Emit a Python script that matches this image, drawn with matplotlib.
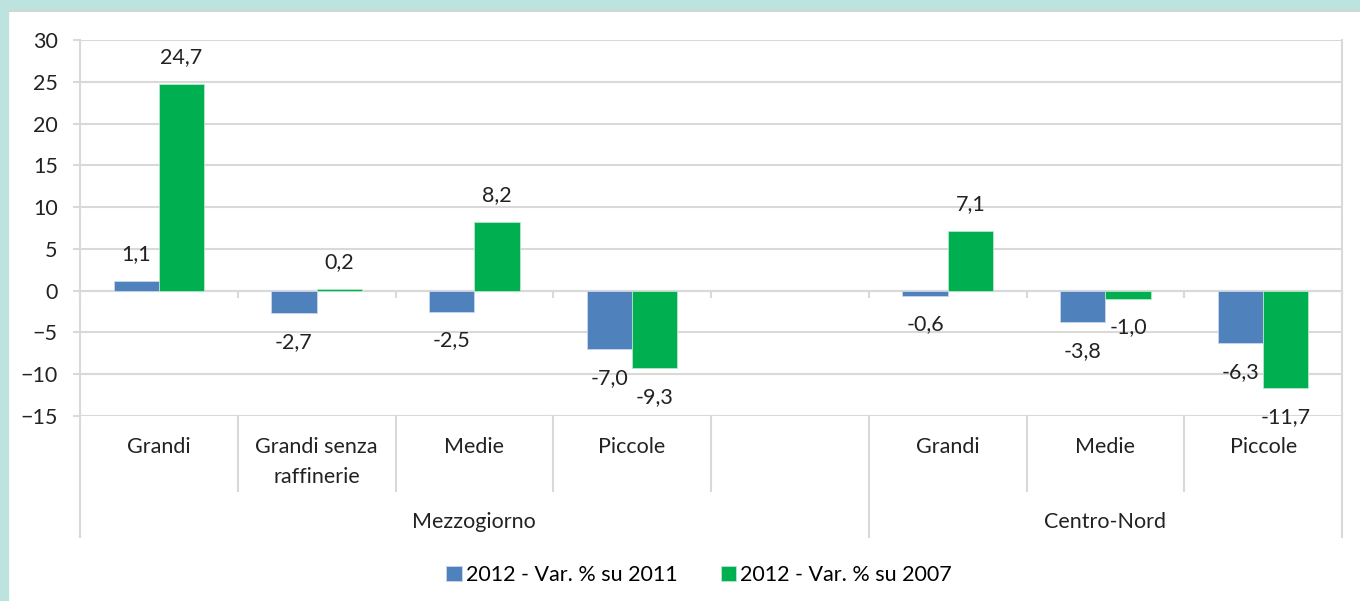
import matplotlib.pyplot as plt
from matplotlib.patches import Rectangle
from matplotlib.transforms import blended_transform_factory
import numpy as np

plt.rcParams['font.family'] = ['Lato', 'DejaVu Sans']

categories = ["Grandi", "Grandi senza\nraffinerie", "Medie", "Piccole", "", "Grandi", "Medie", "Piccole"]
groups = ["Mezzogiorno", "Centro-Nord"]
group_spans = [(0, 5), (5, 8)]
var_2011 = [1.1, -2.7, -2.5, -7.0, np.nan, -0.6, -3.8, -6.3]
var_2007 = [24.7, 0.2, 8.2, -9.3, np.nan, 7.1, -1.0, -11.7]
legend_labels = ["2012 - Var. % su 2011", "2012 - Var. % su 2007"]
yticks = list(range(-15, 31, 5))

blue = '#4f81bd'
green = '#00b050'
grid_col = '#d9d9d9'
fs = 15.5

W, H = 1360, 601
fig = plt.figure(figsize=(W / 100, H / 100), dpi=100, facecolor='white')
fig.patches.append(Rectangle((0, 1 - 10 / H), 1, 10 / H, transform=fig.transFigure, color='#bde3de', zorder=0))
fig.patches.append(Rectangle((0, 0), 8 / W, 1, transform=fig.transFigure, color='#bde3de', zorder=0))
fig.lines.append(plt.Line2D([8 / W, 1], [1 - 11 / H, 1 - 11 / H], transform=fig.transFigure, color='#d0d8d6', lw=1.5))

ax = fig.add_axes([80 / W, 1 - 416 / H, (1342 - 80) / W, (416 - 40) / H])
x = np.arange(len(categories)) + 0.5
bw = 0.287
b1 = ax.bar(x - bw / 2, var_2011, bw, color=blue, edgecolor='#c9d7ea', linewidth=0.6, zorder=3)
b2 = ax.bar(x + bw / 2, var_2007, bw, color=green, edgecolor='#b8e6c9', linewidth=0.6, zorder=3)

for bars, vals in ((b1, var_2011), (b2, var_2007)):
    for rect, v in zip(bars, vals):
        if np.isnan(v):
            continue
        off = 19.5 if v >= 0 else -20.5
        ax.annotate(f"{v:.1f}".replace('.', ','), (rect.get_x() + rect.get_width() / 2, v),
                    xytext=(0, off), textcoords='offset points', ha='center', va='center',
                    fontsize=fs, color='#222222', zorder=4)

ax.set_xlim(0, 8)
ax.set_ylim(-15, 30)
ax.set_yticks(yticks)
ax.yaxis.grid(True, color=grid_col, lw=1.5, zorder=0)
ax.tick_params(axis='y', length=5, width=1.5, color=grid_col, pad=11, labelsize=fs, labelcolor='#222222')
ax.set_xticks(range(0, 9))
ax.set_xticklabels([])
ax.tick_params(axis='x', length=5, width=1.5, color=grid_col, direction='out')
ax.spines['bottom'].set_position(('data', 0))
ax.spines['top'].set_visible(False)
for s in ('left', 'right', 'bottom'):
    ax.spines[s].set_color(grid_col)
    ax.spines[s].set_linewidth(1.5)

axh = 376.0
trans = blended_transform_factory(ax.transData, ax.transAxes)
for b in range(9):
    if b in (0, 5, 8):
        y_end = -121 / axh
    else:
        y_end = -75 / axh
    ax.plot([b, b], [0, y_end], transform=trans, color=grid_col, lw=1.5, clip_on=False, zorder=1)

for i, lab in enumerate(categories):
    ax.text(x[i], -21 / axh, lab, transform=trans, ha='center', va='top', fontsize=fs,
            color='#222222', linespacing=1.6)

for g, (a, b) in zip(groups, group_spans):
    ax.text((a + b) / 2, -106 / axh, g, transform=trans, ha='center', va='center', fontsize=fs, color='#222222')

leg = fig.legend([b1, b2], legend_labels, loc='center', bbox_to_anchor=(0.514, 1 - 575 / H), ncol=2,
                 frameon=False, fontsize=fs, handlelength=0.7, handleheight=0.7, handletextpad=0.2,
                 columnspacing=2.0)

fig.savefig('out.png', dpi=100, facecolor='white')
